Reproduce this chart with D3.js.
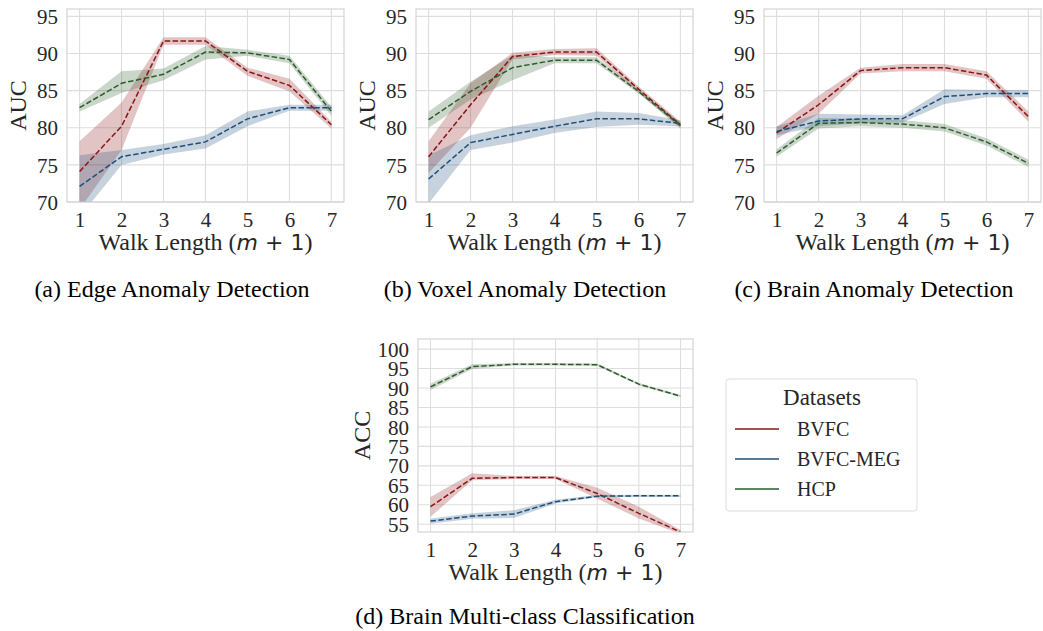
<!DOCTYPE html>
<html>
<head>
<meta charset="utf-8">
<script src="https://cdn.jsdelivr.net/npm/d3@7"></script>
<style>
  html, body { margin: 0; padding: 0; background: #fff; }
  svg { display: block; }
</style>
</head>
<body>
<svg id="chart" width="1043" height="631"></svg>
<script>
(function () {
  'use strict';

  // ── Data ───────────────────────────────────────────────────────
  const walkLengths = [1, 2, 3, 4, 5, 6, 7];
  const seriesNames = ['BVFC', 'BVFC-MEG', 'HCP'];
  const aucTicks = [70, 75, 80, 85, 90, 95];
  const accTicks = [55, 60, 65, 70, 75, 80, 85, 90, 95, 100];

  // (a) Edge anomaly detection
  const edgeBVFC    = [74.1, 80.2, 91.7, 91.7, 87.6, 85.7, 80.4];
  const edgeBVFCLo  = [69.0, 77.0, 91.2, 91.2, 87.0, 84.9, 79.9];
  const edgeBVFCHi  = [78.2, 83.4, 92.2, 92.2, 88.1, 86.6, 80.8];
  const edgeMEG     = [72.1, 76.1, 77.1, 78.1, 81.2, 82.7, 82.7];
  const edgeMEGLo   = [68.0, 75.0, 76.4, 77.2, 80.2, 82.3, 82.3];
  const edgeMEGHi   = [76.3, 77.0, 77.8, 79.0, 82.2, 83.1, 83.1];
  const edgeHCP     = [82.7, 86.0, 87.2, 90.2, 90.1, 89.2, 82.2];
  const edgeHCPLo   = [82.2, 84.7, 86.4, 89.2, 89.7, 88.7, 81.6];
  const edgeHCPHi   = [83.2, 87.6, 88.0, 91.0, 90.5, 89.7, 82.8];

  // (b) Voxel anomaly detection
  const voxelBVFC   = [76.1, 83.1, 89.6, 90.2, 90.2, 85.2, 80.4];
  const voxelBVFCLo = [73.9, 80.0, 89.2, 89.8, 89.7, 84.8, 80.0];
  const voxelBVFCHi = [78.2, 86.0, 90.1, 90.6, 90.7, 85.6, 80.8];
  const voxelMEG    = [73.1, 78.0, 79.1, 80.2, 81.2, 81.2, 80.6];
  const voxelMEGLo  = [69.8, 77.0, 78.0, 79.3, 80.1, 80.4, 80.2];
  const voxelMEGHi  = [76.3, 79.0, 80.2, 81.1, 82.2, 82.0, 81.0];
  const voxelHCP    = [81.1, 84.9, 88.1, 89.1, 89.1, 84.9, 80.3];
  const voxelHCPLo  = [80.0, 83.8, 86.4, 88.7, 88.7, 84.6, 79.9];
  const voxelHCPHi  = [82.2, 86.2, 89.8, 89.5, 89.5, 85.2, 80.7];

  // (c) Brain anomaly detection
  const brainBVFC   = [79.3, 83.1, 87.7, 88.1, 88.1, 87.1, 81.5];
  const brainBVFCLo = [78.5, 81.9, 87.3, 87.6, 87.6, 86.6, 80.8];
  const brainBVFCHi = [80.1, 84.3, 88.1, 88.6, 88.6, 87.6, 82.2];
  const brainMEG    = [79.5, 80.9, 81.2, 81.2, 84.2, 84.6, 84.6];
  const brainMEGLo  = [79.0, 80.2, 80.6, 80.7, 83.2, 84.1, 84.1];
  const brainMEGHi  = [80.2, 81.9, 81.8, 81.7, 85.2, 85.1, 85.1];
  const brainHCP    = [76.6, 80.6, 80.7, 80.5, 80.0, 78.1, 75.2];
  const brainHCPLo  = [76.1, 79.9, 80.2, 80.0, 79.5, 77.6, 74.7];
  const brainHCPHi  = [77.1, 81.3, 81.2, 81.0, 80.5, 78.6, 75.7];

  // (d) Brain multi-class classification
  const classBVFC   = [59.5, 66.8, 67.0, 67.0, 62.9, 57.8, 53.0];
  const classBVFCLo = [56.9, 66.3, 66.6, 66.6, 61.6, 56.5, 52.5];
  const classBVFCHi = [62.0, 68.1, 67.4, 67.4, 64.4, 59.5, 53.5];
  const classMEG    = [55.8, 57.1, 57.6, 60.8, 62.2, 62.3, 62.3];
  const classMEGLo  = [55.1, 56.4, 56.6, 60.3, 61.9, 62.0, 62.0];
  const classMEGHi  = [56.5, 57.8, 58.6, 61.3, 62.5, 62.6, 62.6];
  const classHCP    = [90.3, 95.5, 96.1, 96.1, 96.0, 91.0, 87.9];
  const classHCPLo  = [89.5, 94.9, 95.8, 95.8, 95.7, 90.7, 87.6];
  const classHCPHi  = [91.1, 96.1, 96.4, 96.4, 96.3, 91.3, 88.2];

  // ── Style ──────────────────────────────────────────────────────
  const COLORS = { 'BVFC': '#8b1414', 'BVFC-MEG': '#1d4e7a', 'HCP': '#2c5c2c' };
  const SERIF = '"Liberation Serif", "Times New Roman", serif';
  const MATH  = '"DejaVu Sans", sans-serif';
  const GRID  = '#dedede';
  const INK   = '#262626';

  const svg = d3.select('#chart');

  const panels = [
    { id: 'a', caption: '(a) Edge Anomaly Detection', ylab: 'AUC', ticks: aucTicks, domain: [70, 96],
      box: { l: 67, r: 344, t: 9, b: 202 }, ylabOff: 41, capX: 172, capY: 297,
      series: [[edgeBVFC, edgeBVFCLo, edgeBVFCHi], [edgeMEG, edgeMEGLo, edgeMEGHi], [edgeHCP, edgeHCPLo, edgeHCPHi]] },
    { id: 'b', caption: '(b) Voxel Anomaly Detection', ylab: 'AUC', ticks: aucTicks, domain: [70, 96],
      box: { l: 416, r: 693, t: 9, b: 202 }, ylabOff: 41, capX: 525, capY: 297,
      series: [[voxelBVFC, voxelBVFCLo, voxelBVFCHi], [voxelMEG, voxelMEGLo, voxelMEGHi], [voxelHCP, voxelHCPLo, voxelHCPHi]] },
    { id: 'c', caption: '(c) Brain Anomaly Detection', ylab: 'AUC', ticks: aucTicks, domain: [70, 96],
      box: { l: 764, r: 1041, t: 9, b: 202 }, ylabOff: 41, capX: 874, capY: 297,
      series: [[brainBVFC, brainBVFCLo, brainBVFCHi], [brainMEG, brainMEGLo, brainMEGHi], [brainHCP, brainHCPLo, brainHCPHi]] },
    { id: 'd', caption: '(d) Brain Multi-class Classification', ylab: 'ACC', ticks: accTicks, domain: [53.0, 102.6],
      box: { l: 418, r: 693, t: 339, b: 532 }, ylabOff: 48, capX: 525, capY: 624,
      series: [[classBVFC, classBVFCLo, classBVFCHi], [classMEG, classMEGLo, classMEGHi], [classHCP, classHCPLo, classHCPHi]] },
  ];

  panels.forEach(drawPanel);

  function drawPanel(p) {
    const { l, r, t, b } = p.box;
    const x = d3.scaleLinear().domain([0.7, 7.3]).range([l, r]);
    const y = d3.scaleLinear().domain(p.domain).range([b, t]);
    const g = svg.append('g');

    // grid
    g.append('g').selectAll('line').data(walkLengths).join('line')
      .attr('x1', d => x(d)).attr('x2', d => x(d)).attr('y1', t).attr('y2', b)
      .attr('stroke', GRID).attr('stroke-width', 1.1);
    g.append('g').selectAll('line').data(p.ticks).join('line')
      .attr('x1', l).attr('x2', r).attr('y1', d => y(d)).attr('y2', d => y(d))
      .attr('stroke', GRID).attr('stroke-width', 1.1);

    // clip
    svg.append('clipPath').attr('id', 'clip-' + p.id)
      .append('rect').attr('x', l).attr('y', t).attr('width', r - l).attr('height', b - t);
    const plot = g.append('g').attr('clip-path', `url(#clip-${p.id})`);

    const area = d3.area().x((d, i) => x(walkLengths[i])).y0(d => y(d[0])).y1(d => y(d[1]));
    const line = d3.line().x((d, i) => x(walkLengths[i])).y(d => y(d));

    p.series.forEach(([mean, lo, hi], k) => {
      plot.append('path')
        .datum(lo.map((v, i) => [v, hi[i]]))
        .attr('d', area)
        .attr('fill', COLORS[seriesNames[k]]).attr('fill-opacity', 0.25).attr('stroke', 'none');
    });
    p.series.forEach(([mean], k) => {
      plot.append('path')
        .datum(mean)
        .attr('d', line)
        .attr('fill', 'none').attr('stroke', COLORS[seriesNames[k]])
        .attr('stroke-width', 1.5).attr('stroke-dasharray', '5.5,2.4');
    });

    // frame
    g.append('rect').attr('x', l).attr('y', t).attr('width', r - l).attr('height', b - t)
      .attr('fill', 'none').attr('stroke', '#d0d0d0').attr('stroke-width', 1.1);

    // axes (labels only, no tick marks)
    const xAxis = g.append('g').attr('transform', `translate(0,${b})`)
      .call(d3.axisBottom(x).tickValues(walkLengths).tickSize(0).tickPadding(10).tickFormat(d3.format('d')));
    const yAxis = g.append('g').attr('transform', `translate(${l},0)`)
      .call(d3.axisLeft(y).tickValues(p.ticks).tickSize(0).tickPadding(9).tickFormat(d3.format('d')));
    [xAxis, yAxis].forEach(a => {
      a.select('.domain').remove();
      a.selectAll('text').attr('font-family', SERIF).attr('font-size', 21).attr('fill', INK);
    });
    yAxis.selectAll('text').attr('dy', '0.34em');

    // x label with math part
    const xl = g.append('text')
      .attr('x', (l + r) / 2).attr('y', b + 48)
      .attr('text-anchor', 'middle')
      .attr('font-family', SERIF).attr('font-size', 24).attr('fill', INK);
    xl.append('tspan').text('Walk Length (');
    xl.append('tspan').attr('font-family', MATH).attr('font-style', 'italic').attr('font-size', 22).text('m');
    xl.append('tspan').attr('font-family', MATH).attr('font-size', 22).text(' + 1');
    xl.append('tspan').text(')');

    // y label
    g.append('text')
      .attr('transform', `translate(${l - p.ylabOff},${(t + b) / 2}) rotate(-90)`)
      .attr('text-anchor', 'middle')
      .attr('font-family', SERIF).attr('font-size', 24).attr('fill', INK)
      .text(p.ylab);

    // caption
    g.append('text')
      .attr('x', p.capX).attr('y', p.capY)
      .attr('text-anchor', 'middle')
      .attr('font-family', SERIF).attr('font-size', 24).attr('fill', '#000')
      .text(p.caption);
  }

  // ── Legend ─────────────────────────────────────────────────────
  const legend = svg.append('g');
  legend.append('rect')
    .attr('x', 726).attr('y', 379).attr('width', 191).attr('height', 132)
    .attr('rx', 3).attr('fill', '#fff').attr('stroke', '#dcdcdc').attr('stroke-width', 1);
  legend.append('text')
    .attr('x', 822).attr('y', 405).attr('text-anchor', 'middle')
    .attr('font-family', SERIF).attr('font-size', 23).attr('fill', INK)
    .text('Datasets');
  seriesNames.forEach((name, i) => {
    const yy = 429 + i * 30;
    legend.append('line')
      .attr('x1', 735).attr('x2', 779).attr('y1', yy).attr('y2', yy)
      .attr('stroke', COLORS[name]).attr('stroke-width', 1.5);
    legend.append('text')
      .attr('x', 797).attr('y', yy + 7)
      .attr('font-family', SERIF).attr('font-size', 20).attr('fill', INK)
      .text(name);
  });
})();
</script>
</body>
</html>
